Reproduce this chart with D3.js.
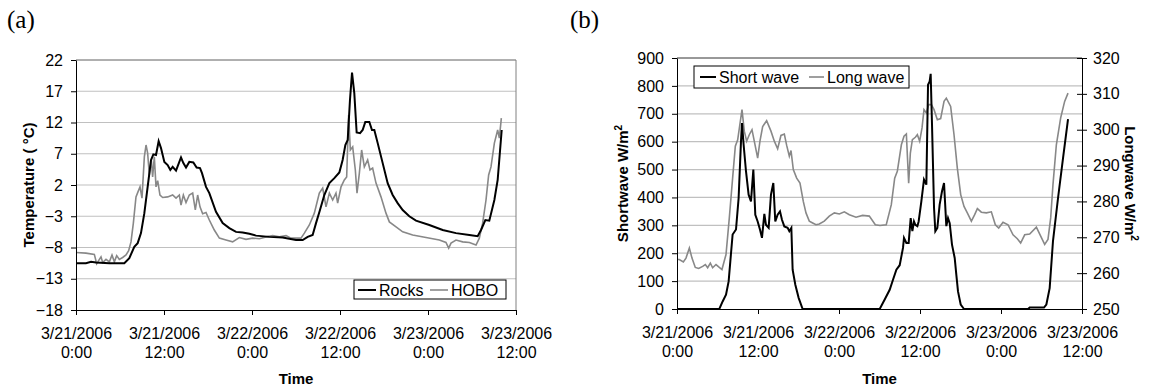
<!DOCTYPE html>
<html>
<head>
<meta charset="utf-8">
<script src="https://cdn.jsdelivr.net/npm/d3@7"></script>
<style>
  body { margin: 0; background: #fff; }
  svg text { font-family: "Liberation Sans", Arial, sans-serif; }
</style>
</head>
<body>
<div id="chart"></div>
<script>
// hours since 3/21/2006 0:00
const xTickHours = [0, 12, 24, 36, 48, 60];
const xTickDates = ["3/21/2006", "3/21/2006", "3/22/2006", "3/22/2006", "3/23/2006", "3/23/2006"];
const xTickTimes = ["0:00", "12:00", "0:00", "12:00", "0:00", "12:00"];

const tempTicks = [-18, -13, -8, -3, 2, 7, 12, 17, 22];
const swTicks = [0, 100, 200, 300, 400, 500, 600, 700, 800, 900];
const lwTicks = [250, 260, 270, 280, 290, 300, 310, 320];

// panel (a)
const rocksHours = [0, 1.36, 2.05, 2.73, 4.55, 6.59, 7.27, 7.95, 8.41, 8.86, 9.32, 9.77, 10.23, 10.55, 10.91, 11.27, 11.59, 12.05, 12.5, 12.86, 13.18, 13.64, 14.32, 14.64, 15.0, 15.45, 16.0, 16.45, 16.91, 17.18, 17.73, 18.18, 19.09, 20.0, 20.91, 21.82, 22.73, 23.64, 24.55, 26.36, 28.18, 30.0,
  30.91, 31.59, 32.27, 32.73, 33.27, 33.86, 34.55, 35.23, 35.91, 36.36, 36.73, 37.05, 37.36, 37.64, 37.95, 38.27, 38.73, 39.09, 39.45, 40.0, 40.36, 40.68, 41.14, 41.82, 42.5, 43.18, 43.86, 44.55, 45.45, 46.36, 48.18, 50.0, 51.82, 53.64, 54.77, 55.23, 55.82, 56.36, 57.05, 57.5, 58.05];
const rocksTemp = [-10.5, -10.5, -10.3, -10.4, -10.5, -10.5, -9.7, -7.9, -7.3, -5.7, -2.5, 1.7, 6.0, 6.9, 6.8, 9.0, 7.9, 5.7, 5.2, 4.4, 4.9, 4.3, 6.4, 5.5, 4.8, 5.7, 5.6, 4.8, 4.7, 3.9, 1.7, 0.7, -2.3, -4.1, -4.9, -5.5, -5.6, -5.8, -6.1, -6.3, -6.4, -6.8,
  -6.8, -6.3, -6.0, -4.1, -2.0, 0.4, 2.3, 3.1, 4.0, 6.0, 8.4, 9.2, 15.6, 20.0, 16.7, 10.4, 10.3, 10.8, 12.1, 12.1, 10.8, 10.8, 8.7, 5.5, 2.3, 0.4, -0.9, -2.0, -3.0, -3.7, -4.4, -5.2, -5.7, -6.0, -6.2, -5.2, -3.6, -3.7, -0.4, 2.8, 10.8];

const hoboHours = [0, 1.36, 2.5, 2.82, 3.41, 3.64, 4.09, 4.55, 4.91, 5.23, 5.55, 5.91, 6.36, 6.82, 7.18, 7.5, 7.82, 8.18, 8.45, 8.73, 9.0, 9.32, 9.55, 9.77, 10.0, 10.27, 10.45, 10.68, 10.91, 11.14, 11.45, 11.82, 12.5, 13.18, 13.64, 14.09, 14.32, 14.64, 15.0, 15.45, 15.91, 16.27, 16.59, 16.91, 17.27, 17.73, 18.18, 18.86, 19.55, 20.45, 21.36, 22.27, 23.18, 24.09, 25.0, 25.91, 26.82, 27.73, 28.64, 29.32, 30.0,
  30.68, 31.14, 31.82, 32.5, 33.18, 33.64, 34.09, 34.55, 35.0, 35.45, 35.68, 36.14, 36.59, 36.91, 37.18, 37.41, 37.73, 38.09, 38.32, 38.64, 38.95, 39.32, 39.77, 40.09, 40.45, 40.91, 41.59, 42.27, 42.73, 43.64, 44.55, 45.91, 47.73, 49.55, 50.45, 50.82, 51.14, 51.82, 52.73, 53.64, 54.55, 55.0, 55.45, 55.91, 56.27, 56.59, 57.05, 57.5, 57.73, 58.0];
const hoboTemp = [-8.8, -8.9, -9.1, -10.6, -9.5, -10.4, -9.9, -10.3, -9.2, -10.3, -9.3, -9.9, -9.6, -9.2, -8.5, -7.1, -4.1, 0.1, 0.9, 1.7, -0.1, 6.5, 8.4, 7.1, 3.6, 6.0, 3.3, 6.5, 1.7, 2.7, 0.4, 0.0, 0.1, 0.4, -0.1, 0.4, -1.2, 0.4, -0.8, 0.4, 0.7, -2.0, 0.4, -1.5, -2.6, -2.4, -3.6, -5.2, -6.5, -6.8, -7.1, -6.4, -6.7, -6.5, -6.6, -6.3, -6.1, -6.3, -6.1, -6.5, -6.5,
  -6.5, -5.7, -4.4, -2.5, 0.7, 1.5, -1.5, 0.7, -0.4, 0.7, -0.9, 1.7, 2.8, 3.3, 13.2, 7.6, 8.1, 4.4, 0.7, 3.9, 7.6, 4.9, 6.0, 4.4, 4.7, 2.3, 0.1, -2.5, -3.9, -4.7, -5.5, -6.0, -6.4, -6.8, -7.2, -8.1, -7.3, -6.8, -7.1, -7.2, -7.6, -6.5, -4.1, -0.4, 3.6, 4.9, 8.7, 10.8, 9.5, 12.7];

// panel (b)
const swHours = [0, 6.27, 6.76, 7.26, 7.65, 7.9, 8.24, 8.74, 9.13, 9.48, 9.63, 9.87, 10.22, 10.61, 10.96, 11.31, 11.6, 11.95, 12.29, 12.59, 12.94, 13.18, 13.58, 13.92, 14.27, 14.56, 14.91, 15.26, 15.55, 15.9, 16.39, 16.64, 16.94, 17.13, 17.53, 18.02, 18.61,
  30.03, 30.77, 31.51, 32.0, 32.5, 32.99, 33.48, 33.63, 33.98, 34.32, 34.62, 34.87, 35.11, 35.31, 35.61, 35.8, 36.2, 36.59, 36.94, 37.19, 37.43, 37.58, 37.78, 38.08, 38.27, 38.57, 38.91, 39.26, 39.56, 39.9, 40.15, 40.4, 40.74, 41.14, 41.38, 41.63, 42.03, 42.52, 52.0, 52.25, 54.37, 54.72, 55.21, 55.7, 56.45, 57.19, 57.93];
const swValues = [0, 0, 27, 51, 99, 171, 267, 285, 398, 601, 667, 589, 494, 410, 386, 500, 338, 314, 285, 255, 341, 302, 291, 410, 452, 314, 338, 350, 320, 296, 291, 279, 291, 141, 87, 40, 0,
  0, 34, 69, 105, 141, 157, 219, 255, 237, 237, 326, 279, 314, 302, 297, 314, 386, 464, 446, 804, 816, 843, 661, 362, 279, 291, 374, 422, 452, 297, 326, 308, 231, 183, 123, 63, 16, 0, 0, 5, 5, 16, 75, 243, 398, 541, 681];

const lwHours = [0, 0.34, 0.94, 1.33, 1.83, 2.22, 2.71, 3.21, 3.8, 4.2, 4.54, 4.94, 5.28, 5.78, 6.27, 6.66, 7.26, 7.75, 8.24, 8.64, 8.99, 9.63, 9.97, 10.32, 10.71, 11.11, 11.45, 11.95, 12.29, 12.69, 13.28, 13.92, 14.42, 14.91, 15.4, 15.9, 16.24, 16.64, 16.89, 17.23, 17.73, 18.22, 18.71, 19.11, 19.6, 20.1, 20.59, 21.08, 21.82, 22.56, 23.31, 24.05, 24.79, 25.53, 26.52, 27.5, 28.49, 29.38, 30.07,
  31.0, 31.75, 32.25, 32.64, 33.24, 33.63, 33.98, 34.32, 34.57, 34.87, 35.31, 35.61, 35.95, 36.3, 36.59, 36.94, 37.29, 37.68, 38.08, 38.57, 39.06, 39.56, 39.9, 40.54, 41.04, 41.53, 42.03, 42.52, 43.01, 43.61, 44.1, 44.5, 45.09, 45.83, 46.57, 47.16, 47.66, 48.3, 49.04, 49.78, 50.42, 50.91, 51.51, 52.25, 53.24, 53.88, 54.47, 54.96, 55.36, 55.7, 56.2, 56.84, 57.43, 57.93];
const lwValues = [263.8, 263.8, 263.1, 264.2, 267.0, 264.2, 261.6, 261.3, 261.9, 262.4, 261.5, 262.8, 261.5, 262.4, 261.6, 261.0, 265.2, 275.4, 286.5, 295.4, 297.2, 305.6, 299.6, 296.8, 298.6, 300.0, 296.8, 292.1, 296.8, 300.9, 302.5, 299.6, 296.8, 294.7, 298.4, 298.8, 295.7, 292.6, 294.2, 288.9, 286.5, 285.1, 280.0, 276.8, 274.5, 274.0, 273.5, 273.7, 274.5, 275.9, 276.8, 276.5, 277.1, 276.3, 275.6, 276.1, 275.9, 273.5, 273.3,
  273.5, 279.1, 286.5, 288.4, 295.8, 298.2, 298.8, 285.1, 293.5, 297.2, 297.9, 298.6, 296.8, 300.5, 305.6, 304.7, 307.0, 307.0, 305.6, 302.8, 303.1, 307.9, 308.8, 306.5, 298.6, 289.3, 281.9, 278.6, 276.8, 274.5, 276.3, 278.0, 277.0, 276.8, 277.1, 273.5, 272.6, 274.2, 273.5, 270.7, 269.6, 268.4, 270.7, 270.9, 272.8, 270.3, 268.0, 269.4, 275.4, 284.7, 295.8, 303.3, 307.9, 310.2];

const W = 1149, H = 390;
const svg = d3.select("#chart").append("svg")
  .attr("width", W).attr("height", H);

const gridColor = "#c0c0c0";
const borderColor = "#808080";
const grayLine = "#888888";

function xAxisWithLabels(g, x, yPos) {
  const ax = g.append("g")
    .attr("transform", `translate(0,${yPos})`)
    .call(d3.axisBottom(x).tickValues(xTickHours).tickSize(5).tickSizeOuter(0).tickFormat(""));
  ax.select(".domain").attr("stroke", "#000");
  ax.selectAll(".tick line").attr("stroke", "#000");
  ax.selectAll(".tick").each(function(d, i) {
    const t = d3.select(this).append("text")
      .attr("fill", "#000").attr("font-size", 16).attr("text-anchor", "middle");
    t.append("tspan").attr("x", 0).attr("y", 29).text(xTickDates[i]);
    t.append("tspan").attr("x", 0).attr("y", 48).text(xTickTimes[i]);
  });
}

function panelTitle(label, xp) {
  svg.append("text").attr("x", xp).attr("y", 28)
    .style("font-family", "'Liberation Serif', 'Times New Roman', serif")
    .attr("font-size", 25).text(label);
}

// ---------- panel (a) ----------
{
  const m = { left: 76, top: 60, width: 440, height: 250 };
  const g = svg.append("g");
  const x = d3.scaleLinear().domain([0, 60]).range([m.left, m.left + m.width]);
  const y = d3.scaleLinear().domain([-18, 22]).range([m.top + m.height, m.top]);

  g.append("g").selectAll("line").data(tempTicks.slice(1)).join("line")
    .attr("x1", m.left).attr("x2", m.left + m.width)
    .attr("y1", d => y(d)).attr("y2", d => y(d))
    .attr("stroke", gridColor).attr("stroke-width", 1.2);

  g.append("path")
    .attr("d", `M${m.left},${m.top}H${m.left + m.width}V${m.top + m.height}`)
    .attr("fill", "none").attr("stroke", borderColor);

  const line = d3.line().x(d => x(d[0])).y(d => y(d[1]));
  g.append("path").datum(hoboHours.map((h, i) => [h, hoboTemp[i]]))
    .attr("d", line).attr("fill", "none").attr("stroke", grayLine).attr("stroke-width", 1.6);
  g.append("path").datum(rocksHours.map((h, i) => [h, rocksTemp[i]]))
    .attr("d", line).attr("fill", "none").attr("stroke", "#000").attr("stroke-width", 2);

  const ya = g.append("g").attr("transform", `translate(${m.left},0)`)
    .call(d3.axisLeft(y).tickValues(tempTicks).tickSize(5).tickSizeOuter(0).tickPadding(8));
  ya.select(".domain").attr("stroke", "#000");
  ya.selectAll(".tick line").attr("stroke", "#000");
  ya.selectAll(".tick text").attr("font-size", 16).attr("fill", "#000");

  xAxisWithLabels(g, x, m.top + m.height);

  g.append("text").attr("transform", `translate(34,${m.top + m.height / 2}) rotate(-90)`)
    .attr("text-anchor", "middle").attr("font-weight", "bold").attr("font-size", 15)
    .text("Temperature ( °C)");
  g.append("text").attr("x", m.left + m.width / 2).attr("y", 384)
    .attr("text-anchor", "middle").attr("font-weight", "bold").attr("font-size", 15)
    .text("Time");

  // legend
  const lg = g.append("g").attr("transform", "translate(354,280)");
  lg.append("rect").attr("width", 152).attr("height", 19).attr("fill", "#fff").attr("stroke", "#000");
  lg.append("line").attr("x1", 4).attr("x2", 22).attr("y1", 10).attr("y2", 10).attr("stroke", "#000").attr("stroke-width", 2);
  lg.append("text").attr("x", 25).attr("y", 15.5).attr("font-size", 16).text("Rocks");
  lg.append("line").attr("x1", 76).attr("x2", 94).attr("y1", 10).attr("y2", 10).attr("stroke", grayLine).attr("stroke-width", 1.6);
  lg.append("text").attr("x", 97).attr("y", 15.5).attr("font-size", 16).text("HOBO");

  panelTitle("(a)", 7);
}

// ---------- panel (b) ----------
{
  const m = { left: 677, top: 58, width: 405, height: 251 };
  const g = svg.append("g");
  const x = d3.scaleLinear().domain([0, 60]).range([m.left, m.left + m.width]);
  const ySw = d3.scaleLinear().domain([0, 900]).range([m.top + m.height, m.top]);
  const yLw = d3.scaleLinear().domain([250, 320]).range([m.top + m.height, m.top]);

  g.append("g").selectAll("line").data(swTicks.slice(1, -1)).join("line")
    .attr("x1", m.left).attr("x2", m.left + m.width)
    .attr("y1", d => ySw(d)).attr("y2", d => ySw(d))
    .attr("stroke", gridColor).attr("stroke-width", 1.2);

  g.append("path")
    .attr("d", `M${m.left},${m.top}H${m.left + m.width}`)
    .attr("fill", "none").attr("stroke", "#333");

  g.append("path").datum(lwHours.map((h, i) => [h, lwValues[i]]))
    .attr("d", d3.line().x(d => x(d[0])).y(d => yLw(d[1])))
    .attr("fill", "none").attr("stroke", grayLine).attr("stroke-width", 1.6);
  g.append("path").datum(swHours.map((h, i) => [h, swValues[i]]))
    .attr("d", d3.line().x(d => x(d[0])).y(d => ySw(d[1])))
    .attr("fill", "none").attr("stroke", "#000").attr("stroke-width", 2);

  const yl = g.append("g").attr("transform", `translate(${m.left},0)`)
    .call(d3.axisLeft(ySw).tickValues(swTicks).tickSize(5).tickSizeOuter(0).tickPadding(8));
  yl.select(".domain").attr("stroke", "#000");
  yl.selectAll(".tick line").attr("stroke", "#000");
  yl.selectAll(".tick text").attr("font-size", 16).attr("fill", "#000");

  const yr = g.append("g").attr("transform", `translate(${m.left + m.width},0)`)
    .call(d3.axisRight(yLw).tickValues(lwTicks).tickSize(5).tickSizeOuter(0).tickPadding(6));
  yr.select(".domain").attr("stroke", "#000");
  yr.selectAll(".tick line").attr("stroke", "#000").attr("x1", -5);
  yr.selectAll(".tick text").attr("font-size", 16).attr("fill", "#000");

  xAxisWithLabels(g, x, m.top + m.height);

  const t1 = g.append("text").attr("transform", `translate(628,${m.top + m.height / 2}) rotate(-90)`)
    .attr("text-anchor", "middle").attr("font-weight", "bold").attr("font-size", 15);
  t1.append("tspan").text("Shortwave W/m");
  t1.append("tspan").attr("dy", -6).attr("font-size", 10).text("2");

  const t2 = g.append("text").attr("transform", `translate(1125,${m.top + m.height / 2}) rotate(90)`)
    .attr("text-anchor", "middle").attr("font-weight", "bold").attr("font-size", 15);
  t2.append("tspan").text("Longwave W/m");
  t2.append("tspan").attr("dy", -6).attr("font-size", 10).text("2");

  g.append("text").attr("x", m.left + m.width / 2).attr("y", 384)
    .attr("text-anchor", "middle").attr("font-weight", "bold").attr("font-size", 15)
    .text("Time");

  const lg = g.append("g").attr("transform", "translate(694,66)");
  lg.append("rect").attr("width", 215).attr("height", 22).attr("fill", "#fff").attr("stroke", "#000");
  lg.append("line").attr("x1", 6).attr("x2", 22).attr("y1", 11).attr("y2", 11).attr("stroke", "#000").attr("stroke-width", 2);
  lg.append("text").attr("x", 25).attr("y", 17).attr("font-size", 16).text("Short wave");
  lg.append("line").attr("x1", 115).attr("x2", 130).attr("y1", 11).attr("y2", 11).attr("stroke", grayLine).attr("stroke-width", 1.6);
  lg.append("text").attr("x", 133).attr("y", 17).attr("font-size", 16).text("Long wave");

  panelTitle("(b)", 570);
}
</script>
</body>
</html>
